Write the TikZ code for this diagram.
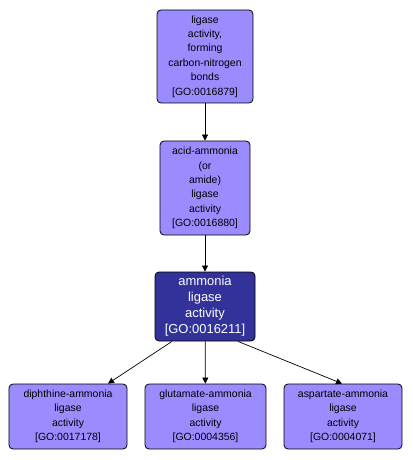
\documentclass[tikz,border=0pt]{standalone}
\usepackage{fontspec}
\setmainfont{Liberation Sans}
\usetikzlibrary{arrows.meta}
\definecolor{lightgo}{HTML}{9A8CFF}
\definecolor{darkgo}{HTML}{32329A}
\begin{document}
\begin{tikzpicture}[x=1bp,y=-1bp,
  goterm/.style={draw=black, line width=0.8bp, rounded corners=4bp, fill=lightgo, align=center, font=\fontsize{10.5}{14.5}\selectfont, inner sep=0pt},
  gomain/.style={goterm, fill=darkgo, text=white, font=\fontsize{13}{16}\selectfont},
  edge/.style={draw=black, line width=0.7bp, -{Triangle[length=6bp,width=6bp]}}]
\useasboundingbox (0,0) rectangle (412,460);
\node[goterm, minimum width=96bp, minimum height=93bp] (a) at (205,56.5) {ligase\\activity,\\forming\\carbon-nitrogen\\bonds\\{[GO:0016879]}};
\node[goterm, minimum width=90bp, minimum height=94bp] (b) at (205,188) {acid-ammonia\\(or\\amide)\\ligase\\activity\\{[GO:0016880]}};
\node[gomain, minimum width=100bp, minimum height=69bp] (c) at (205,306.5) {ammonia\\ligase\\activity\\{[GO:0016211]}};
\node[goterm, minimum width=118bp, minimum height=65bp] (d) at (68,416.5) {diphthine-ammonia\\ligase\\activity\\{[GO:0017178]}};
\node[goterm, minimum width=121bp, minimum height=65bp] (e) at (205.5,416.5) {glutamate-ammonia\\ligase\\activity\\{[GO:0004356]}};
\node[goterm, minimum width=118bp, minimum height=65bp] (f) at (343,416.5) {aspartate-ammonia\\ligase\\activity\\{[GO:0004071]}};
\draw[edge] (a) -- (b);
\draw[edge] (b) -- (c);
\draw[edge] (c.south -| 172,0) -- (d.north -| 108,0);
\draw[edge] (c) -- (e);
\draw[edge] (c.south -| 238,0) -- (f.north -| 342,0);
\end{tikzpicture}
\end{document}
